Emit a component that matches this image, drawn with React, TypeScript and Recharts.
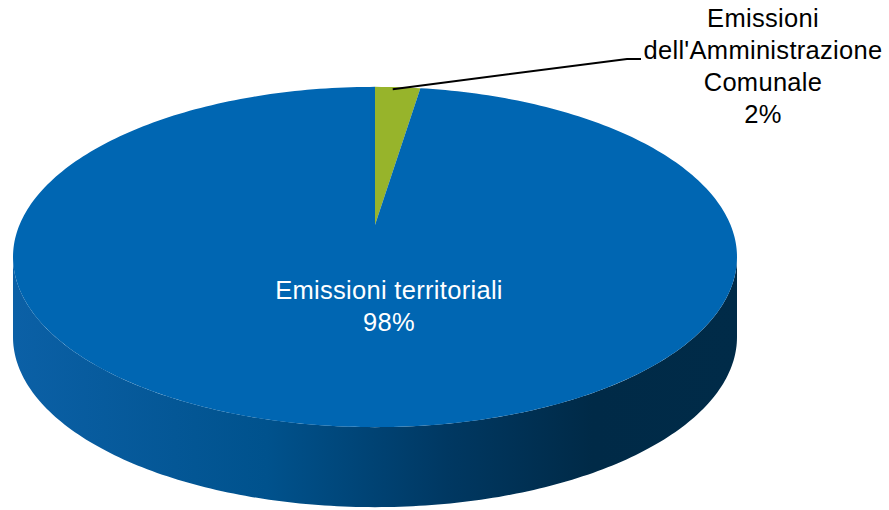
import React from 'react';
import { PieChart, Pie, Cell } from 'recharts';

// emission shares shown in the picture
const categories = ["Emissioni dell'Amministrazione Comunale", 'Emissioni territoriali'];
const shares = [2, 98];
const labelLines = [
  ['Emissioni', "dell'Amministrazione", 'Comunale'],
  ['Emissioni territoriali'],
];
const topColors = ['#97B42B', '#0066B2'];

const data = categories.map((name, i) => ({ name, value: shares[i] }));

const TILT = 0.47; // ry / rx of the top face
const DEPTH = 80; // height of the side wall
const APEX_LIFT = 32; // perspective: apex sits above the ellipse centre
const RAD = Math.PI / 180;

const ellipsePt = (cx: number, cy: number, rx: number, deg: number, dy = 0) =>
  `${cx + rx * Math.cos(deg * RAD)},${cy - rx * TILT * Math.sin(deg * RAD) + dy}`;

const arcPoints = (cx: number, cy: number, rx: number, a: number, b: number, dy = 0) => {
  const pts: string[] = [];
  const step = a < b ? 1 : -1;
  const n = Math.ceil(Math.abs(b - a));
  for (let i = 0; i <= n; i++) {
    const d = i === n ? b : a + step * i;
    pts.push(ellipsePt(cx, cy, rx, d, dy));
  }
  return pts;
};

const Slice3D = (props: any) => {
  const { cx, cy, outerRadius, startAngle, endAngle, index } = props;
  const rx = outerRadius;
  const lo = Math.min(startAngle, endAngle);
  const hi = Math.max(startAngle, endAngle);

  // front walls: parts of the slice that fall in the lower half of the ellipse
  const walls: string[] = [];
  for (let k = -2; k <= 1; k++) {
    const a = Math.max(lo, 180 + 360 * k);
    const b = Math.min(hi, 360 + 360 * k);
    if (b > a) {
      const top = arcPoints(cx, cy, rx, a, b);
      const bottom = arcPoints(cx, cy, rx, b, a, DEPTH);
      walls.push(`M${top.join('L')}L${bottom.join('L')}Z`);
    }
  }

  const face = arcPoints(cx, cy, rx, startAngle, endAngle);
  const facePath = `M${cx},${cy - APEX_LIFT}L${face.join('L')}Z`;
  const gid = `wall-${index}`;

  return (
    <g>
      <defs>
        <linearGradient id={gid} gradientUnits="userSpaceOnUse" x1={cx - rx} y1={0} x2={cx + rx} y2={0}>
          <stop offset="0%" stopColor="#0B60A6" />
          <stop offset="35%" stopColor="#00528D" />
          <stop offset="60%" stopColor="#003862" />
          <stop offset="80%" stopColor="#002A47" />
          <stop offset="100%" stopColor="#002B48" />
        </linearGradient>
      </defs>
      {walls.map((d, i) => (
        <path key={i} d={d} fill={index === 0 ? '#6E8520' : `url(#${gid})`} />
      ))}
      <path d={facePath} fill={topColors[index]} />
    </g>
  );
};

const renderLabel = (props: any) => {
  const { cx, cy, outerRadius, midAngle, percent, index } = props;
  const pct = `${Math.round(percent * 100)}%`;
  const font = { fontFamily: '"Liberation Sans", Arial, sans-serif', fontSize: 25.5, letterSpacing: 0.3 };

  if (index === 0) {
    const ax = cx + outerRadius * Math.cos(midAngle * RAD) - 5;
    const ay = cy - outerRadius * TILT * Math.sin(midAngle * RAD) + 2;
    const ex = cx + 252;
    const ey = cy - 198;
    const tx = cx + 388;
    const lines = [...labelLines[0], pct];
    return (
      <g>
        <polyline points={`${ax},${ay} ${ex},${ey} ${ex + 14},${ey}`} fill="none" stroke="#000" strokeWidth={2} />
        {lines.map((t, i) => (
          <text key={i} x={tx} y={cy - 230 + i * 32} textAnchor="middle" fill="#000" {...font}>
            {t}
          </text>
        ))}
      </g>
    );
  }

  const lines = [...labelLines[1], pct];
  return (
    <g>
      {lines.map((t, i) => (
        <text key={i} x={cx + 14} y={cy + 42 + i * 32} textAnchor="middle" fill="#fff" {...font}>
          {t}
        </text>
      ))}
    </g>
  );
};

export default function App() {
  return (
    <div style={{ width: 889, height: 510, background: '#fff' }}>
      <style>{'body{margin:0}'}</style>
      <PieChart width={889} height={510} margin={{ top: 0, right: 0, bottom: 0, left: 0 }}>
        <Pie
          data={data}
          dataKey="value"
          nameKey="name"
          cx={375}
          cy={257}
          outerRadius={362}
          startAngle={90}
          endAngle={-270}
          stroke="none"
          shape={Slice3D}
          label={renderLabel}
          labelLine={false}
          isAnimationActive={false}
        >
          {data.map((d, i) => (
            <Cell key={d.name} fill={topColors[i]} />
          ))}
        </Pie>
      </PieChart>
    </div>
  );
}
